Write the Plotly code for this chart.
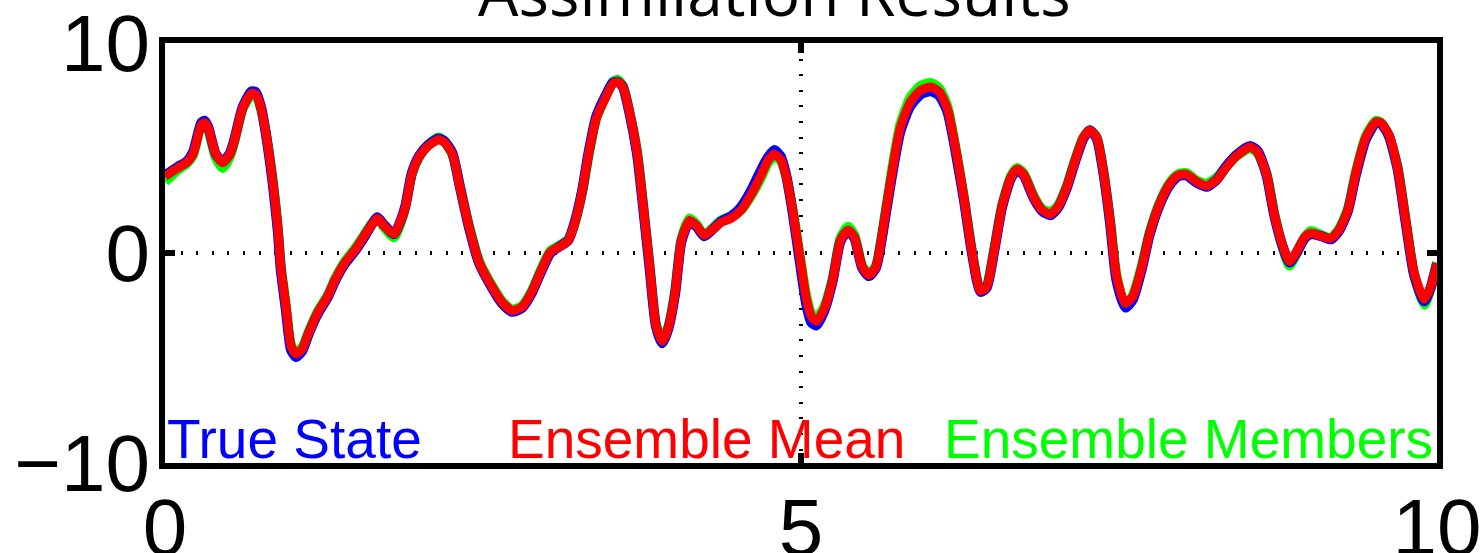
import plotly.graph_objects as go

# ---- data ----
time = [0.00, 0.10, 0.17, 0.22, 0.285, 0.31, 0.34, 0.40, 0.455, 0.51, 0.545, 0.61, 0.68, 0.715, 0.755, 0.795,
        0.846, 0.886, 0.91, 0.95, 0.99, 1.03, 1.08, 1.13, 1.20, 1.28, 1.34, 1.41, 1.50, 1.565, 1.62, 1.67,
        1.72, 1.80, 1.85, 1.89, 1.94, 2.00, 2.07, 2.15, 2.20, 2.26, 2.32, 2.39, 2.47, 2.57, 2.65, 2.73,
        2.81, 2.88, 2.96, 3.03, 3.10, 3.17, 3.22, 3.28, 3.33, 3.39, 3.46, 3.52, 3.56, 3.60, 3.65, 3.71,
        3.76, 3.81, 3.86, 3.91, 3.955, 4.01, 4.06, 4.125, 4.18, 4.24, 4.31, 4.37, 4.45, 4.53, 4.61, 4.69,
        4.74, 4.79, 4.84, 4.88, 4.935, 4.99, 5.04, 5.08, 5.12, 5.18, 5.25, 5.31, 5.37, 5.42, 5.48, 5.535,
        5.59, 5.64, 5.705, 5.78, 5.86, 5.94, 6.02, 6.085, 6.15, 6.21, 6.28, 6.345, 6.41, 6.46, 6.515, 6.58,
        6.65, 6.70, 6.75, 6.83, 6.895, 6.96, 7.02, 7.09, 7.155, 7.22, 7.27, 7.325, 7.38, 7.43, 7.48, 7.55,
        7.61, 7.68, 7.74, 7.82, 7.90, 7.965, 8.03, 8.11, 8.19, 8.27, 8.34, 8.42, 8.53, 8.59, 8.66, 8.72,
        8.79, 8.84, 8.89, 8.96, 9.01, 9.09, 9.165, 9.23, 9.30, 9.36, 9.44, 9.52, 9.56, 9.62, 9.69, 9.75,
        9.82, 9.90, 9.95, 10.00]

ensemble_mean = [3.65, 4.05, 4.3, 4.7, 6.1, 6.2, 5.95, 4.7, 4.3, 4.7, 5.35, 6.9, 7.6, 7.55, 6.9, 5.65,
                 3.45, 1.25, -0.65, -2.5, -4.4, -4.8, -4.55, -3.8, -2.85, -2.05, -1.25, -0.5, 0.2, 0.8, 1.3, 1.65,
                 1.3, 0.9, 1.5, 2.2, 3.75, 4.6, 5.1, 5.4, 5.25, 4.7, 3.1, 1.25, -0.45, -1.6, -2.35, -2.75,
                 -2.55, -1.9, -0.8, 0.05, 0.3, 0.6, 1.4, 2.95, 4.7, 6.4, 7.35, 8.05, 8.15, 7.9, 6.75, 4.85,
                 2.2, -0.65, -3.45, -4.2, -3.6, -1.9, 0.6, 1.55, 1.3, 0.85, 1.15, 1.45, 1.65, 2.05, 2.8, 3.75,
                 4.4, 4.7, 4.45, 3.75, 2.0, -0.15, -2.1, -3.0, -3.25, -2.7, -1.25, 0.6, 1.1, 0.75, -0.65, -1.05,
                 -0.65, 0.95, 3.45, 5.95, 7.2, 7.75, 7.9, 7.7, 6.9, 5.15, 2.65, 0.0, -1.8, -1.6, 0.0, 2.2,
                 3.6, 4.0, 3.75, 2.65, 2.05, 1.85, 2.2, 3.15, 4.4, 5.5, 5.85, 5.5, 3.75, 1.5, -1.1, -2.4,
                 -2.05, -0.65, 0.9, 2.35, 3.3, 3.7, 3.75, 3.4, 3.2, 3.5, 4.05, 4.6, 5.05, 4.8, 3.75, 1.85,
                 0.3, -0.4, 0.0, 0.75, 0.95, 0.8, 0.7, 1.1, 2.05, 3.75, 5.5, 6.25, 6.2, 5.65, 4.05, 1.7,
                 -0.95, -2.2, -1.6, -0.5]

true_state = [3.7, 4.1, 4.35, 4.8, 6.2, 6.3, 6.0, 4.7, 4.35, 4.75, 5.4, 6.95, 7.7, 7.65, 6.95, 5.6,
              3.35, 1.1, -0.8, -2.7, -4.6, -4.95, -4.65, -3.85, -2.9, -2.1, -1.3, -0.55, 0.15, 0.75, 1.3, 1.7,
              1.35, 0.9, 1.5, 2.25, 3.8, 4.65, 5.15, 5.45, 5.3, 4.75, 3.1, 1.2, -0.5, -1.65, -2.4, -2.8,
              -2.6, -1.95, -0.85, 0.0, 0.3, 0.6, 1.45, 3.0, 4.8, 6.5, 7.45, 8.1, 8.15, 7.9, 6.7, 4.75,
              2.1, -0.75, -3.5, -4.3, -3.65, -1.95, 0.55, 1.5, 1.25, 0.8, 1.15, 1.5, 1.75, 2.2, 3.0, 4.0,
              4.55, 4.9, 4.6, 3.8, 1.9, -0.4, -2.4, -3.3, -3.45, -2.8, -1.3, 0.55, 1.05, 0.7, -0.7, -1.1,
              -0.7, 0.85, 3.3, 5.75, 7.0, 7.55, 7.7, 7.5, 6.75, 5.0, 2.55, -0.05, -1.85, -1.65, -0.05, 2.15,
              3.55, 3.95, 3.7, 2.6, 2.0, 1.8, 2.15, 3.1, 4.35, 5.45, 5.85, 5.45, 3.7, 1.4, -1.3, -2.6,
              -2.2, -0.75, 0.85, 2.3, 3.25, 3.65, 3.7, 3.35, 3.15, 3.5, 4.1, 4.65, 5.1, 4.85, 3.7, 1.8,
              0.25, -0.45, -0.05, 0.7, 0.9, 0.8, 0.65, 1.05, 2.0, 3.65, 5.4, 6.2, 6.15, 5.6, 4.0, 1.6,
              -1.05, -2.3, -1.65, -0.5]

ensemble_member = [3.4, 3.95, 4.25, 4.65, 6.15, 6.3, 5.9, 4.55, 4.05, 4.6, 5.3, 6.85, 7.55, 7.5, 6.85, 5.65,
                   3.5, 1.3, -0.6, -2.45, -4.35, -4.75, -4.5, -3.75, -2.8, -2.0, -1.2, -0.45, 0.25, 0.85, 1.35, 1.65,
                   1.25, 0.75, 1.4, 2.2, 3.75, 4.6, 5.15, 5.5, 5.3, 4.7, 3.15, 1.3, -0.4, -1.55, -2.3, -2.7,
                   -2.5, -1.85, -0.75, 0.1, 0.35, 0.65, 1.4, 2.9, 4.65, 6.4, 7.4, 8.15, 8.25, 7.95, 6.75, 4.9,
                   2.25, -0.6, -3.4, -4.15, -3.55, -1.85, 0.65, 1.65, 1.35, 0.85, 1.2, 1.55, 1.75, 2.05, 2.75, 3.65,
                   4.3, 4.6, 4.4, 3.75, 2.05, -0.1, -2.0, -2.9, -3.1, -2.6, -1.2, 0.7, 1.25, 0.85, -0.6, -1.0,
                   -0.6, 1.0, 3.55, 6.1, 7.4, 7.95, 8.1, 7.85, 7.0, 5.2, 2.7, 0.05, -1.75, -1.55, 0.05, 2.25,
                   3.65, 4.05, 3.8, 2.7, 2.1, 1.95, 2.25, 3.2, 4.45, 5.5, 5.85, 5.5, 3.8, 1.55, -1.05, -2.55,
                   -2.0, -0.6, 0.95, 2.4, 3.35, 3.75, 3.8, 3.45, 3.3, 3.6, 4.1, 4.6, 5.0, 4.75, 3.8, 1.9,
                   0.2, -0.6, -0.1, 0.75, 1.05, 0.85, 0.7, 1.15, 2.1, 3.8, 5.55, 6.3, 6.2, 5.6, 4.1, 1.75,
                   -1.0, -2.45, -1.7, -0.45]

x_ticks = [0, 5, 10]
x_tick_labels = ["0", "5", "10"]
y_ticks = [-10, 0, 10]
y_tick_labels = ["\u221210", "0", "10"]

labels = ["True State", "Ensemble Mean", "Ensemble Members"]
label_x = [0.0, 2.68, 6.11]
label_colors = ["#0000FF", "#FF0000", "#00FF00"]

title_text = "Assimilation Results"

# ---- figure ----
fig = go.Figure()
fig.add_trace(go.Scatter(x=time, y=ensemble_member, mode="lines",
                         line=dict(color="#00FF00", width=10, shape="spline", smoothing=0.6),
                         name="Ensemble Members"))
fig.add_trace(go.Scatter(x=time, y=true_state, mode="lines",
                         line=dict(color="#0000FF", width=10, shape="spline", smoothing=0.6),
                         name="True State"))
fig.add_trace(go.Scatter(x=time, y=ensemble_mean, mode="lines",
                         line=dict(color="#FF0000", width=9, shape="spline", smoothing=0.6),
                         name="Ensemble Mean"))

for txt, xv, col in zip(labels, label_x, label_colors):
    fig.add_annotation(x=xv, y=-10, xref="x", yref="y", text=txt, showarrow=False,
                       xanchor="left", yanchor="bottom", yshift=-9,
                       font=dict(family="Liberation Sans, Arial", size=55, color=col))

fig.add_annotation(x=0.479, y=1, xref="paper", yref="paper", text=title_text, showarrow=False,
                   xanchor="center", yanchor="bottom", yshift=6,
                   font=dict(family="Open Sans", size=64, color="black"))

axis_common = dict(
    showline=True, linewidth=6, linecolor="black", mirror="ticks",
    ticks="inside", ticklen=10, tickwidth=6, tickcolor="black",
    showgrid=True, gridcolor="black", gridwidth=4, griddash="2px,13.6px",
    zeroline=False, automargin=False, ticklabeloverflow="allow",
    tickfont=dict(family="Liberation Sans, Arial", size=80, color="black"),
)

fig.update_xaxes(range=[0, 10], tickvals=x_ticks, ticktext=x_tick_labels,
                 ticklabelstandoff=-10, **axis_common)
fig.update_yaxes(range=[-10, 10], tickvals=y_ticks, ticktext=y_tick_labels,
                 ticklabelstandoff=-7, **axis_common)

fig.update_layout(
    width=1484, height=553,
    margin=dict(l=165, r=47, t=43, b=90, pad=0),
    plot_bgcolor="white", paper_bgcolor="white",
    showlegend=False,
)

fig.write_html("out.html")
